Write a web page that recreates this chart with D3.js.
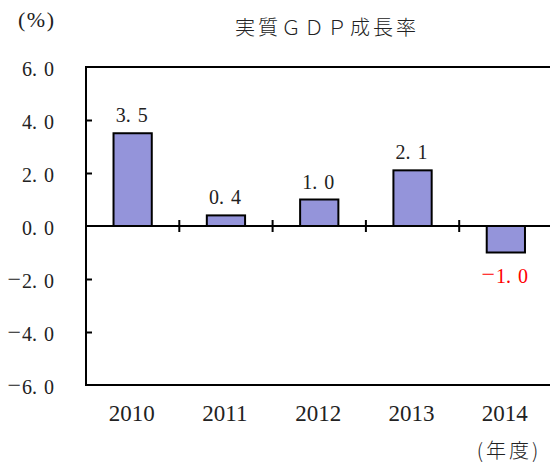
<!DOCTYPE html>
<html>
<head>
<meta charset="utf-8">
<script src="https://cdn.jsdelivr.net/npm/d3@7"></script>
<style>
  html, body { margin: 0; padding: 0; background: #fff; }
  svg { display: block; }
  .num { font-family: "Liberation Serif", "DejaVu Serif", serif; }
  .jp { font-family: "Noto Sans CJK JP", sans-serif; }
</style>
</head>
<body>
<svg id="chart" width="550" height="466"></svg>
<script>
// Real GDP growth rate by fiscal year (%)
const years = ["2010", "2011", "2012", "2013", "2014"];
const growth = [3.5, 0.4, 1.0, 2.1, -1.0];
const yTicks = [6, 4, 2, 0, -2, -4, -6];
const titleText = "実質ＧＤＰ成長率";
const unitText = "(%)";
const xUnitText = "(年度)";

const svg = d3.select("#chart");
const plotLeft = 86, plotRight = 552.5, plotTop = 67, plotBottom = 385;

const x = d3.scaleBand().domain(years).range([plotLeft, plotRight]).padding(0);
const y = d3.scaleLinear().domain([-6, 6]).range([plotBottom, plotTop]);
const barW = x.bandwidth() * 0.41;

// Formats a value like "6. 0" with the wide gap after the decimal point
function fmt(sel, v) {
  const s = Math.abs(v).toFixed(1);
  const [a, b] = s.split(".");
  sel.text(null);
  if (v < 0) {
    sel.append("tspan").attr("font-size", 24).attr("dy", -1).text("\u2212");
    sel.append("tspan").attr("dx", 1).attr("dy", 1).text(a + ".");
  } else {
    sel.append("tspan").text(a + ".");
  }
  sel.append("tspan").attr("dx", 7).text(b);
}

// Title and unit labels
svg.append("text").attr("class", "jp")
  .attr("x", 327).attr("y", 35).attr("text-anchor", "middle")
  .attr("font-size", 20).attr("font-weight", 300).attr("letter-spacing", 3).attr("fill", "#222")
  .text(titleText);
svg.append("text").attr("class", "num")
  .attr("x", 18).attr("y", 27)
  .attr("font-size", 22).attr("letter-spacing", 1.5).attr("fill", "#222")
  .text(unitText);
svg.append("text").attr("class", "jp")
  .attr("x", 509).attr("y", 458).attr("text-anchor", "middle")
  .attr("font-size", 20).attr("font-weight", 300).attr("letter-spacing", 3).attr("fill", "#222")
  .text(xUnitText);

// Y tick labels
svg.append("g").selectAll("text").data(yTicks).join("text")
  .attr("class", "num")
  .attr("x", 54).attr("y", d => y(d) + 9)
  .attr("text-anchor", "end")
  .attr("font-size", 20).attr("fill", "#222")
  .each(function (d) { fmt(d3.select(this), d); });

// Bars
svg.append("g").selectAll("rect").data(growth).join("rect")
  .attr("x", (d, i) => x(years[i]) + (x.bandwidth() - barW) / 2)
  .attr("y", d => y(Math.max(0, d)))
  .attr("width", barW)
  .attr("height", d => Math.abs(y(d) - y(0)))
  .attr("fill", "#9494da")
  .attr("stroke", "#000")
  .attr("stroke-width", 2);

// Frame: left, top and bottom lines
const frame = svg.append("g").attr("stroke", "#000").attr("stroke-width", 2).attr("fill", "none");
frame.append("path").attr("d", `M${plotRight},${plotTop}H${plotLeft}V${plotBottom}H${plotRight}`);

// Y ticks pointing inward
const yAxis = d3.axisRight(y).tickValues([4, 2, -2, -4]).tickSize(6).tickFormat("");
svg.append("g").attr("transform", `translate(${plotLeft},0)`).call(yAxis)
  .call(g => g.select(".domain").remove())
  .call(g => g.selectAll("line").attr("stroke-width", 2));

// Zero line with category boundary ticks crossing it
svg.append("line")
  .attr("x1", plotLeft).attr("x2", plotRight).attr("y1", y(0)).attr("y2", y(0))
  .attr("stroke", "#000").attr("stroke-width", 2);
svg.append("g").selectAll("line").data(years.slice(1)).join("line")
  .attr("x1", d => x(d)).attr("x2", d => x(d))
  .attr("y1", y(0) - 6).attr("y2", y(0) + 6)
  .attr("stroke", "#000").attr("stroke-width", 2);

// Category labels
svg.append("g").selectAll("text").data(years).join("text")
  .attr("class", "num")
  .attr("x", d => x(d) + x.bandwidth() / 2 - 1)
  .attr("y", 421)
  .attr("text-anchor", "middle")
  .attr("font-size", 23).attr("fill", "#222")
  .text(d => d);

// Value labels: above positive bars, below negative ones in red
svg.append("g").selectAll("text").data(growth).join("text")
  .attr("class", "num")
  .attr("x", (d, i) => x(years[i]) + x.bandwidth() / 2 - 1)
  .attr("y", d => d >= 0 ? y(d) - 11 : y(d) + 30)
  .attr("text-anchor", "middle")
  .attr("font-size", 20)
  .attr("fill", d => d >= 0 ? "#222" : "#ff0000")
  .each(function (d) { fmt(d3.select(this), d); });
</script>
</body>
</html>
